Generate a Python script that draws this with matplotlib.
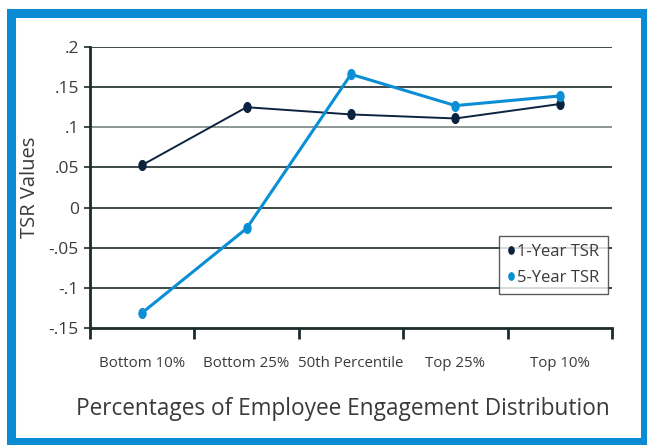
import matplotlib.pyplot as plt
from matplotlib.patches import Rectangle
from matplotlib.path import Path

# Chart data
categories = ["Bottom 10%", "Bottom 25%", "50th Percentile", "Top 25%", "Top 10%"]
tsr_1yr = [0.053, 0.125, 0.116, 0.111, 0.129]
tsr_5yr = [-0.131, -0.026, 0.166, 0.127, 0.139]
y_ticks = [-0.15, -0.1, -0.05, 0, 0.05, 0.1, 0.15, 0.2]
y_tick_labels = ["-.15", "-.1", "-.05", "0", ".05", ".1", ".15", ".2"]

navy = "#0c2340"
blue = "#0a8fd6"
text_col = "#3a3a3a"

plt.rcParams["font.family"] = ["Open Sans", "DejaVu Sans"]

# tall ellipse marker like the original
circ = Path.unit_circle()
oval = Path(circ.vertices * [0.72, 1.0], circ.codes)

fig = plt.figure(figsize=(6.47, 4.45), dpi=100)
ax = fig.add_axes([90 / 647, 1 - 328 / 445, 522 / 647, 281 / 445])

x = [i + 0.5 for i in range(len(categories))]
ax.plot(x, tsr_1yr, color=navy, lw=1.4, marker=oval, ms=7, label="1-Year TSR")
ax.plot(x, tsr_5yr, color=blue, lw=2.2, marker=oval, ms=7, label="5-Year TSR")

ax.set_xlim(0, len(categories))
ax.set_ylim(-0.15, 0.2)
ax.set_yticks(y_ticks)
ax.set_yticklabels(y_tick_labels, fontsize=12.5, color=text_col)
for v in y_ticks:
    if v == -0.15:
        continue
    ax.axhline(v, color="#7a8585" if v == 0.1 else "#1c2b2b", lw=1.2, zorder=0)

ax.set_xticks(range(len(categories) + 1))
ax.set_xticklabels([])
ax.set_xticks(x, minor=True)
ax.set_xticklabels(categories, minor=True, fontsize=10.8, color=text_col)
ax.tick_params(axis="x", which="major", length=8, width=2, color="#1c2b2b")
ax.tick_params(axis="x", which="minor", length=0, pad=20)
ax.tick_params(axis="y", length=4, width=1.2, color="#1c2b2b", pad=4)

for s in ["top", "right"]:
    ax.spines[s].set_visible(False)
for s in ["left", "bottom"]:
    ax.spines[s].set_color("#1c2b2b")
    ax.spines[s].set_linewidth(2)

ax.set_ylabel("TSR Values", fontsize=14.5, color=text_col, labelpad=6)
ax.set_xlabel("Percentages of Employee Engagement Distribution", fontsize=16.3,
              color=text_col)
ax.xaxis.set_label_coords(0.484, -0.245)

leg = ax.legend(loc="lower right", bbox_to_anchor=(1.008, 0.09), fontsize=12,
                frameon=True, fancybox=False, handlelength=0.4, handletextpad=0.2,
                borderpad=0.5, labelspacing=0.6, markerscale=0.75)
leg.get_frame().set_edgecolor("#333333")
leg.get_frame().set_linewidth(1)
for h in leg.get_lines():
    h.set_linestyle("none")
for t in leg.get_texts():
    t.set_color(text_col)

# blue frame around the whole figure
W, H = 647, 445
fig.patches.append(Rectangle((10.5 / W, 3 / H), 634 / W, 429 / H, fill=False,
                             edgecolor="#0a8bd4", lw=6.5, transform=fig.transFigure))

fig.savefig("out.png", dpi=100)
